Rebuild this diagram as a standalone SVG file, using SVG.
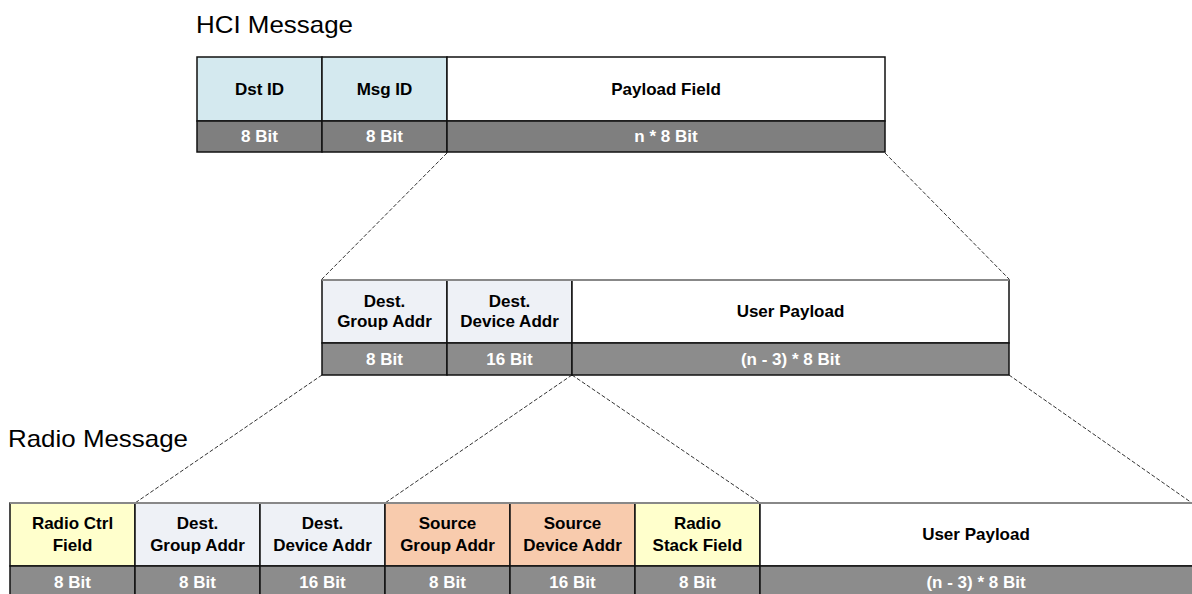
<svg xmlns="http://www.w3.org/2000/svg" width="1192" height="594" viewBox="0 0 1192 594">
<style>
.t{font-family:"Liberation Sans",Arial,sans-serif;font-weight:bold;font-size:17px;fill:#000;text-anchor:middle}
.w{font-family:"Liberation Sans",Arial,sans-serif;font-weight:bold;font-size:17px;fill:#fff;text-anchor:middle}
.title{font-family:"Liberation Sans",Arial,sans-serif;font-size:24px;fill:#000}
.c{stroke:#111;stroke-width:1.5}
.g1{fill:#7f7f7f;stroke:#111;stroke-width:1.5}
.g2{fill:#8c8c8c;stroke:#111;stroke-width:1.5}
.dash{stroke:#333;stroke-width:1;stroke-dasharray:4 2;fill:none}
.topg{stroke:#888;stroke-width:2}
</style>
<rect width="1192" height="594" fill="#fff"/>
<text class="title" x="196" y="33" textLength="157" lengthAdjust="spacingAndGlyphs">HCI Message</text>
<text class="title" x="8" y="447" textLength="180" lengthAdjust="spacingAndGlyphs">Radio Message</text>

<g id="connectors">
<line class="dash" x1="447" y1="153" x2="322" y2="279"/>
<line class="dash" x1="885" y1="153" x2="1009" y2="279"/>
<line class="dash" x1="322" y1="375" x2="135" y2="503"/>
<line class="dash" x1="572" y1="375" x2="385" y2="503"/>
<line class="dash" x1="572" y1="375" x2="760" y2="503"/>
<line class="dash" x1="1009" y1="375" x2="1192" y2="503"/>
</g>

<g id="hci">
<g id="hci-dst"><rect class="c" x="197" y="57" width="125" height="64" fill="#d4e9ef"/><text class="t" x="259.5" y="95">Dst ID</text><rect class="g1" x="197" y="121" width="125" height="31"/><text class="w" x="259.5" y="142">8 Bit</text></g>
<g id="hci-msg"><rect class="c" x="322" y="57" width="125" height="64" fill="#d4e9ef"/><text class="t" x="384.5" y="95">Msg ID</text><rect class="g1" x="322" y="121" width="125" height="31"/><text class="w" x="384.5" y="142">8 Bit</text></g>
<g id="hci-payload"><rect class="c" x="447" y="57" width="438" height="64" fill="#fff"/><text class="t" x="666" y="95">Payload Field</text><rect class="g1" x="447" y="121" width="438" height="31"/><text class="w" x="666" y="142">n * 8 Bit</text></g>
</g>

<g id="mid">
<g id="mid-group"><rect class="c" x="322" y="280" width="125" height="63" fill="#eef1f6"/><text class="t" x="384.5" y="307">Dest.</text><text class="t" x="384.5" y="327">Group Addr</text><rect class="g2" x="322" y="343" width="125" height="32"/><text class="w" x="384.5" y="365">8 Bit</text></g>
<g id="mid-device"><rect class="c" x="447" y="280" width="125" height="63" fill="#eef1f6"/><text class="t" x="509.5" y="307">Dest.</text><text class="t" x="509.5" y="327">Device Addr</text><rect class="g2" x="447" y="343" width="125" height="32"/><text class="w" x="509.5" y="365">16 Bit</text></g>
<g id="mid-payload"><rect class="c" x="572" y="280" width="437" height="63" fill="#fff"/><text class="t" x="790.5" y="317">User Payload</text><rect class="g2" x="572" y="343" width="437" height="32"/><text class="w" x="790.5" y="365">(n - 3) * 8 Bit</text></g>
<line class="topg" x1="322" y1="280" x2="1009" y2="280"/>
</g>

<g id="radio">
<g id="r-ctrl"><rect class="c" x="10" y="503" width="125" height="63" fill="#ffffcc"/><text class="t" x="72.5" y="529">Radio Ctrl</text><text class="t" x="72.5" y="551">Field</text><rect class="g2" x="10" y="566" width="125" height="34"/><text class="w" x="72.5" y="588">8 Bit</text></g>
<g id="r-dgroup"><rect class="c" x="135" y="503" width="125" height="63" fill="#eef1f6"/><text class="t" x="197.5" y="529">Dest.</text><text class="t" x="197.5" y="551">Group Addr</text><rect class="g2" x="135" y="566" width="125" height="34"/><text class="w" x="197.5" y="588">8 Bit</text></g>
<g id="r-ddevice"><rect class="c" x="260" y="503" width="125" height="63" fill="#eef1f6"/><text class="t" x="322.5" y="529">Dest.</text><text class="t" x="322.5" y="551">Device Addr</text><rect class="g2" x="260" y="566" width="125" height="34"/><text class="w" x="322.5" y="588">16 Bit</text></g>
<g id="r-sgroup"><rect class="c" x="385" y="503" width="125" height="63" fill="#f8cbad"/><text class="t" x="447.5" y="529">Source</text><text class="t" x="447.5" y="551">Group Addr</text><rect class="g2" x="385" y="566" width="125" height="34"/><text class="w" x="447.5" y="588">8 Bit</text></g>
<g id="r-sdevice"><rect class="c" x="510" y="503" width="125" height="63" fill="#f8cbad"/><text class="t" x="572.5" y="529">Source</text><text class="t" x="572.5" y="551">Device Addr</text><rect class="g2" x="510" y="566" width="125" height="34"/><text class="w" x="572.5" y="588">16 Bit</text></g>
<g id="r-stack"><rect class="c" x="635" y="503" width="125" height="63" fill="#ffffcc"/><text class="t" x="697.5" y="529">Radio</text><text class="t" x="697.5" y="551">Stack Field</text><rect class="g2" x="635" y="566" width="125" height="34"/><text class="w" x="697.5" y="588">8 Bit</text></g>
<g id="r-payload"><rect class="c" x="760" y="503" width="440" height="63" fill="#fff"/><text class="t" x="976" y="540">User Payload</text><rect class="g2" x="760" y="566" width="440" height="34"/><text class="w" x="976" y="588">(n - 3) * 8 Bit</text></g>
<line class="topg" x1="10" y1="503" x2="1192" y2="503"/>
</g>
</svg>
